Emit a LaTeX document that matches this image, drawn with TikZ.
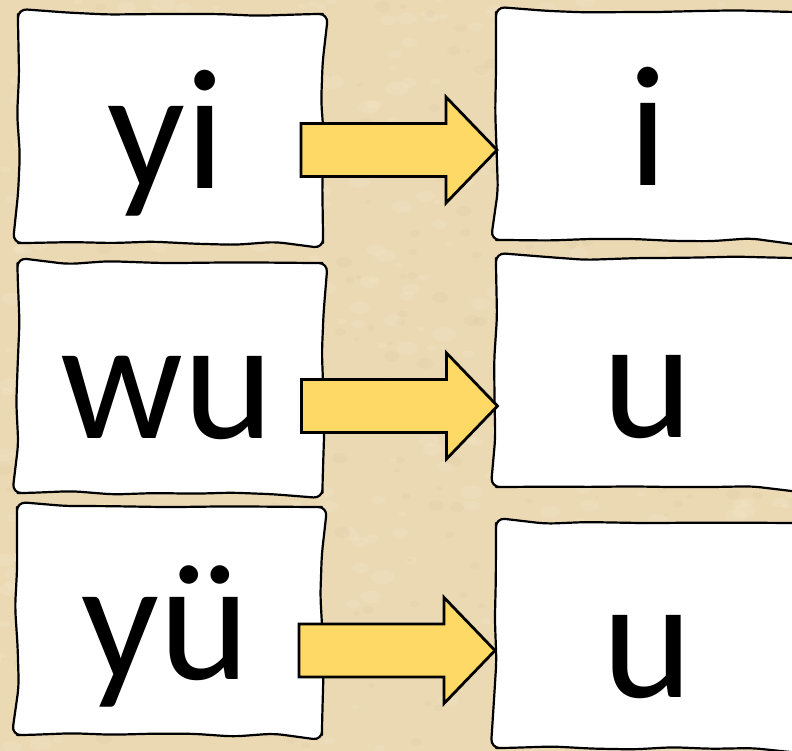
\documentclass[tikz,border=0pt]{standalone}
\usepackage{fontspec}
\setmainfont{Carlito}
\usetikzlibrary{decorations.pathmorphing}
\definecolor{parch}{HTML}{EBD9B4}
\definecolor{parchlight}{HTML}{F5E8CA}
\definecolor{parchdark}{HTML}{CDB386}
\definecolor{arrowyellow}{HTML}{FFD966}
\begin{document}
\begin{tikzpicture}[x=1bp,y=-1bp,
  card/.style={minimum width=305bp, minimum height=#1, inner sep=0pt, outer sep=0pt},
  cardborder/.style={draw=black, fill=white, line width=2.2bp, line join=round, decorate,
    decoration={random steps, segment length=40bp, amplitude=2bp},
    rounded corners=9bp},
  arrowstyle/.style={draw=black, fill=arrowyellow, line width=2.8bp, line join=miter},
  blockarrow/.pic={\path[arrowstyle] (-196,-26.5) -- (-51,-26.5) -- (-51,-53) -- (0,0)
    -- (-51,53) -- (-51,26.5) -- (-196,26.5) -- cycle;
    \coordinate (-tip) at (0,0);},
  bigtext/.style={font=\fontsize{172bp}{172bp}\selectfont, inner sep=0pt, anchor=base}]
\useasboundingbox (0,0) rectangle (792,751);
\clip (0,0) rectangle (792,751);
\fill[parch] (0,0) rectangle (792,751);
% parchment texture
\pgfmathsetseed{11}
\foreach \i in {1,...,500}{
  \pgfmathsetmacro\px{rnd*792}
  \pgfmathsetmacro\py{rnd*751}
  \pgfmathsetmacro\pr{3+rnd*9}
  \fill[parchlight, opacity=0.25] (\px,\py) ellipse[x radius=\pr bp, y radius=0.6*\pr bp];
}
\foreach \i in {1,...,300}{
  \pgfmathsetmacro\px{rnd*792}
  \pgfmathsetmacro\py{rnd*751}
  \pgfmathsetmacro\pr{2+rnd*6}
  \fill[parchdark, opacity=0.10] (\px,\py) ellipse[x radius=\pr bp, y radius=0.7*\pr bp];
}
% cards
\node[card=229bp] (l1) at (170.5,128.5) {};
\node[card=230bp] (l2) at (170,378) {};
\node[card=228bp] (l3) at (169.5,621) {};
\node[card=228bp] (r1) at (648.5,126) {};
\node[card=229bp] (r2) at (648.5,372.5) {};
\node[card=225bp] (r3) at (648.5,635.5) {};
\pgfmathsetseed{5}
\foreach \c in {l1,l2,l3,r1,r2,r3}{
  \path[cardborder] (\c.north) -- (\c.north east) -- (\c.south east)
    -- (\c.south west) -- (\c.north west) -- cycle;
}
% texts
\node[bigtext] (tyi) at (166,188) {yi};
\node[bigtext] (twu) at (167,438) {wu};
\node[bigtext] (tyu) at (166,679) {yü};
\node[bigtext] (ti)  at (648,185) {i};
\node[bigtext] (tu1) at (648,437) {u};
\node[bigtext] (tu2) at (648,697) {u};
% arrows
\pic (a1) at (497,150) {blockarrow};
\pic (a2) at (497.5,406) {blockarrow};
\pic (a3) at (495,650.5) {blockarrow};
\end{tikzpicture}
\end{document}
